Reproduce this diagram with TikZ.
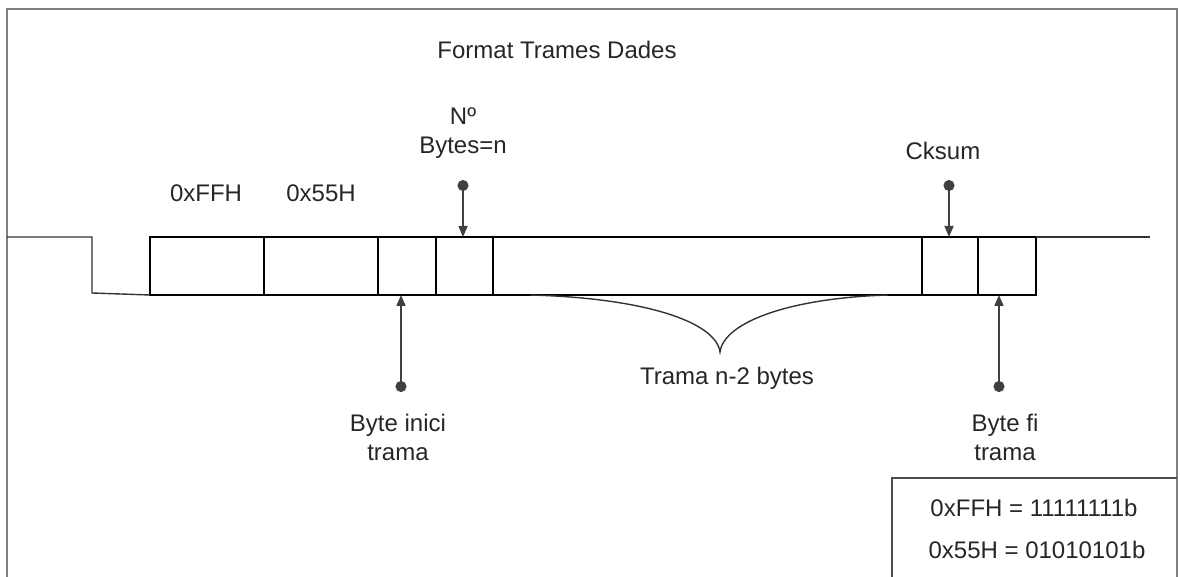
\documentclass[tikz,border=0pt]{standalone}
\usepackage{fontspec}
\setmainfont{Liberation Sans}
\usetikzlibrary{positioning, arrows.meta, calc}
\tikzset{
  cell/.style={rectangle, draw=black, line width=1pt, minimum height=29pt, inner sep=0pt, outer sep=0pt},
  pointer/.style={line width=0.8pt, draw=black!75, {Circle[length=5.5pt]}-{Triangle[length=5.5pt,width=4.5pt]}},
  txt/.style={font=\fontsize{12}{14.5}\selectfont, align=center, text=black!85, inner sep=0pt},
  signal/.style={line width=0.7pt, draw=black!80},
  frame/.style={line width=1.3pt, draw=black!50}
}

\begin{document}
\begin{tikzpicture}[x=0.5pt, y=-0.5pt, node distance=0pt]
        \useasboundingbox (0,0) rectangle (1180,577);

        % Marc exterior
        \draw [frame] (7,577) -- (7,9) -- (1177,9) -- (1177,577);

        \node (title) [txt] at (557,50) {Format Trames Dades};

        % Camps de la trama
        \node (ff) [cell, minimum width=57pt, anchor=north west] at (150,237) {};
        \node (x55) [cell, minimum width=57pt, right=of ff] {};
        \node (ini) [cell, minimum width=29pt, right=of x55] {};
        \node (num) [cell, minimum width=28.5pt, right=of ini] {};
        \node (dades) [cell, minimum width=214.5pt, right=of num] {};
        \node (ck) [cell, minimum width=28pt, right=of dades] {};
        \node (fi) [cell, minimum width=29pt, right=of ck] {};

        % Linia del senyal
        \draw [signal] (7,237) -- (92,237) -- (92,293) -- (ff.south west);
        \draw [signal] (fi.north east) -- (1150,237);

        \node (tff) [txt] at (206,193) {0xFFH};
        \node (t55) [txt] at (321,193) {0x55H};

        % Punters de dalt
        \node (lnum) [txt] at (463,133) {Nº\\Bytes=n};
        \coordinate (pnum) at (463,180);
        \draw [pointer] (pnum) -- (pnum |- num.north);

        \node (lck) [txt] at (943,151) {Cksum};
        \coordinate (pck) at (949,180);
        \draw [pointer] (pck) -- (pck |- ck.north);

        % Punters de baix
        \coordinate (pini) at (401,392);
        \draw [pointer] (pini) -- (pini |- ini.south);
        \node (lini) [txt] at (398,437) {Byte inici\\trama};

        \coordinate (pfi) at (999,392);
        \draw [pointer] (pfi) -- (pfi |- fi.south);
        \node (lfi) [txt] at (1005,437) {Byte fi\\trama};

        % Clau sota les dades
        \coordinate (tip) at (720,352);
        \draw [signal] (530,295) .. controls (645,298) and (716,322) .. (tip)
                .. controls (724,322) and (790,298) .. (888,295);
        \node (ltrama) [txt] at (727,378) {Trama n-2 bytes};

        % Llegenda
        \draw [signal, draw=black!70, line width=0.9pt] (892,577) -- (892,478) -- (1177,478);
        \node (leg1) [txt] at (1034,508) {0xFFH = 11111111b};
        \node (leg2) [txt] at (1037,550) {0x55H = 01010101b};

\end{tikzpicture}
\end{document}
